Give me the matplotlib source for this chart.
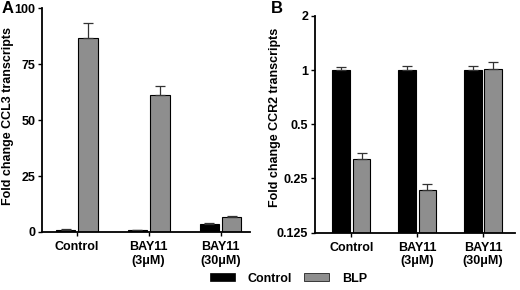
import numpy as np
import matplotlib
matplotlib.use("Agg")
import matplotlib.pyplot as plt
from matplotlib.patches import Patch

plt.rcParams['font.family'] = ['Liberation Sans', 'DejaVu Sans']
plt.rcParams['font.weight'] = 'bold'

groups = ['Control', 'BAY11\n(3\u03bcM)', 'BAY11\n(30\u03bcM)']
series = ['Control', 'BLP']

# panel A: CCL3 fold change
ccl3_ctrl = [1.0, 0.7, 3.5]
ccl3_ctrl_err = [0.2, 0.2, 0.6]
ccl3_blp = [86.5, 61.3, 6.8]
ccl3_blp_err = [6.9, 3.7, 0.3]

# panel B: CCR2 fold change (log2 axis)
ccr2_ctrl = [1.0, 1.0, 1.0]
ccr2_ctrl_err = [0.04, 0.06, 0.06]
ccr2_blp = [0.32, 0.215, 1.02]
ccr2_blp_err = [0.027, 0.019, 0.09]

colors = ['black', '#8e8e8e']
bw = 0.27
off = 0.155


def draw_bars(ax, data):
    x = np.arange(len(groups))
    for i, (v, e) in enumerate(data):
        ax.bar(x + (2 * i - 1) * off, v, bw, color=colors[i],
               edgecolor='black', linewidth=0.8, zorder=2,
               yerr=[np.zeros(len(e)), e], capsize=3.5,
               error_kw=dict(elinewidth=0.9, capthick=0.9, ecolor='#333333'))
    ax.set_xticks(x)
    ax.set_xticklabels(groups, fontsize=9, fontweight='bold')
    ax.spines['top'].set_visible(False)
    ax.spines['right'].set_visible(False)
    ax.spines['left'].set_linewidth(1.3)
    ax.spines['bottom'].set_linewidth(1.3)
    ax.tick_params(axis='both', labelsize=9, width=1, length=3)
    ax.tick_params(axis='y', pad=2)


fig = plt.figure(figsize=(5.2, 2.9), dpi=100)

axA = fig.add_axes([0.081, 0.2, 0.40, 0.772])
draw_bars(axA, [(ccl3_ctrl, ccl3_ctrl_err), (ccl3_blp, ccl3_blp_err)])
axA.set_xlim(-0.48, 2.41)
axA.set_ylim(0, 100)
axA.set_yticks([0, 25, 50, 75, 100])
axA.set_ylabel('Fold change CCL3 transcripts', fontsize=9, fontweight='bold')
axA.yaxis.set_label_coords(-0.135, 0.518)
fig.text(0.003, 0.995, 'A', fontsize=12, fontweight='bold', va='top')

axB = fig.add_axes([0.606, 0.198, 0.384, 0.747])
axB.set_yscale('log', base=2)
draw_bars(axB, [(ccr2_ctrl, ccr2_ctrl_err), (ccr2_blp, ccr2_blp_err)])
axB.set_xlim(-0.55, 2.48)
axB.set_ylim(0.125, 2)
axB.set_yticks([0.125, 0.25, 0.5, 1, 2])
axB.set_yticklabels(['0.125', '0.25', '0.5', '1', '2'])
axB.yaxis.set_minor_locator(matplotlib.ticker.NullLocator())
axB.set_ylabel('Fold change CCR2 transcripts', fontsize=9, fontweight='bold')
axB.yaxis.set_label_coords(-0.17, 0.534)
fig.text(0.52, 0.995, 'B', fontsize=12, fontweight='bold', va='top')

handles = [Patch(facecolor=c, edgecolor='black', linewidth=0.5) for c in colors]
fig.legend(handles, series, loc='lower center', ncol=2, frameon=False,
           bbox_to_anchor=(0.555, -0.02), handlelength=2.0,
           handleheight=0.6, columnspacing=1.0, handletextpad=1.0,
           prop={'weight': 'bold', 'size': 9})

fig.savefig('out.png', dpi=100)
